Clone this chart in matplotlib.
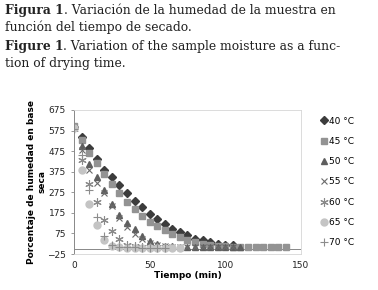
import matplotlib
matplotlib.use("Agg")
import matplotlib.pyplot as plt

# tiempo de secado (min), cada 5 min
t_40 = list(range(0, 110, 5))
h_40 = [590, 545, 490, 435, 385, 350, 312, 273, 235, 202, 170, 144, 120, 99, 82, 67,
        50, 41, 33, 26, 21, 18]
t_45 = list(range(0, 145, 5))
h_45 = [595, 530, 468, 415, 366, 317, 273, 227, 194, 161, 133, 112, 93, 74, 57, 43,
        33, 25, 20, 16, 13, 11, 10, 9, 8, 8, 7, 7, 7]
t_50 = list(range(0, 115, 5))
h_50 = [590, 498, 410, 350, 287, 218, 166, 128, 95, 62, 38, 25, 15, 12, 10, 10, 9, 9,
        8, 8, 8, 8, 8]
t_55 = list(range(0, 110, 5))
h_55 = [585, 480, 385, 320, 271, 210, 149, 107, 74, 46, 30, 20, 14, 11, 10, 9, 9, 8,
        8, 8, 8, 8]
t_60 = list(range(0, 65, 5))
h_60 = [580, 432, 317, 227, 139, 87, 46, 21, 12, 9, 8, 7, 7]
t_65 = list(range(0, 75, 5))
h_65 = [585, 382, 218, 115, 41, 13, 8, 6, 5, 5, 5, 5, 5, 5, 5]
t_70 = list(range(0, 65, 5))
h_70 = [580, 455, 284, 153, 62, 20, 10, 8, 7, 6, 6, 6, 6]

labels = ["40 °C", "45 °C", "50 °C", "55 °C", "60 °C", "65 °C", "70 °C"]

fig = plt.figure(figsize=(3.78, 2.90), dpi=100)

# leyenda de la figura (texto arriba)
serif = "DejaVu Serif"
fs_cap = 8.9
rend = fig.canvas.get_renderer()
lines = [("Figura 1", ". Variación de la humedad de la muestra en", 0.963),
         (None, "función del tiempo de secado.", 0.905),
         ("Figure 1", ". Variation of the sample moisture as a func-", 0.840),
         (None, "tion of drying time.", 0.782)]
for bold, rest, y in lines:
    x = 0.013
    if bold:
        tb = fig.text(x, y, bold, fontsize=fs_cap, fontweight="bold", family=serif,
                      va="center", color="#222222")
        bb = tb.get_window_extent(renderer=rend)
        x = bb.x1 / fig.bbox.width
    fig.text(x, y, rest, fontsize=fs_cap, family=serif, va="center", color="#222222")

ax = fig.add_axes([0.196, 0.124, 0.600, 0.497])

ax.plot(t_40, h_40, "D", ms=4.0, color="#3c3c3c", ls="none", label=labels[0])
ax.plot(t_45, h_45, "s", ms=5.0, color="#939393", ls="none", label=labels[1])
ax.plot(t_50, h_50, "^", ms=4.8, color="#5e5e5e", ls="none", label=labels[2])
ax.plot(t_55, h_55, "x", ms=5.0, mew=0.8, color="#6a6a6a", ls="none", label=labels[3])
ax.plot(t_60, h_60, marker=(6, 2, 0), ms=6.0, mew=0.8, color="#8a8a8a", ls="none",
        label=labels[4])
ax.plot(t_65, h_65, "o", ms=5.0, color="#c4c4c4", ls="none", label=labels[5])
ax.plot(t_70, h_70, "+", ms=6.0, mew=0.8, color="#8c8c8c", ls="none", label=labels[6])

ax.set_xlim(0, 150)
ax.set_ylim(-25, 675)
ax.set_xticks([0, 50, 100, 150])
ax.set_yticks(list(range(-25, 676, 100)))
ax.tick_params(axis="both", labelsize=6.5, colors="#222222", length=2.5, width=0.6)
ax.tick_params(axis="x", length=0, pad=5)
ax.tick_params(axis="y", color="#888888")

for side in ["top", "right", "bottom"]:
    ax.spines[side].set_color("#d6d6d6")
    ax.spines[side].set_linewidth(0.6)
ax.spines["left"].set_color("#888888")
ax.spines["left"].set_linewidth(0.7)
ax.axhline(0, color="#888888", lw=0.7, zorder=1)

ax.set_xlabel("Tiempo (min)", fontsize=6.5, fontweight="bold", labelpad=1)
ax.set_ylabel("Porcentaje de humedad en base\nseca", fontsize=6.5, fontweight="bold",
              labelpad=0, linespacing=1.3)

leg = ax.legend(loc="center left", bbox_to_anchor=(1.07, 0.5), frameon=False,
                fontsize=6.5, handlelength=0.7, handletextpad=0.3,
                labelspacing=1.25, borderaxespad=0)

fig.savefig("out.png", dpi=100)
